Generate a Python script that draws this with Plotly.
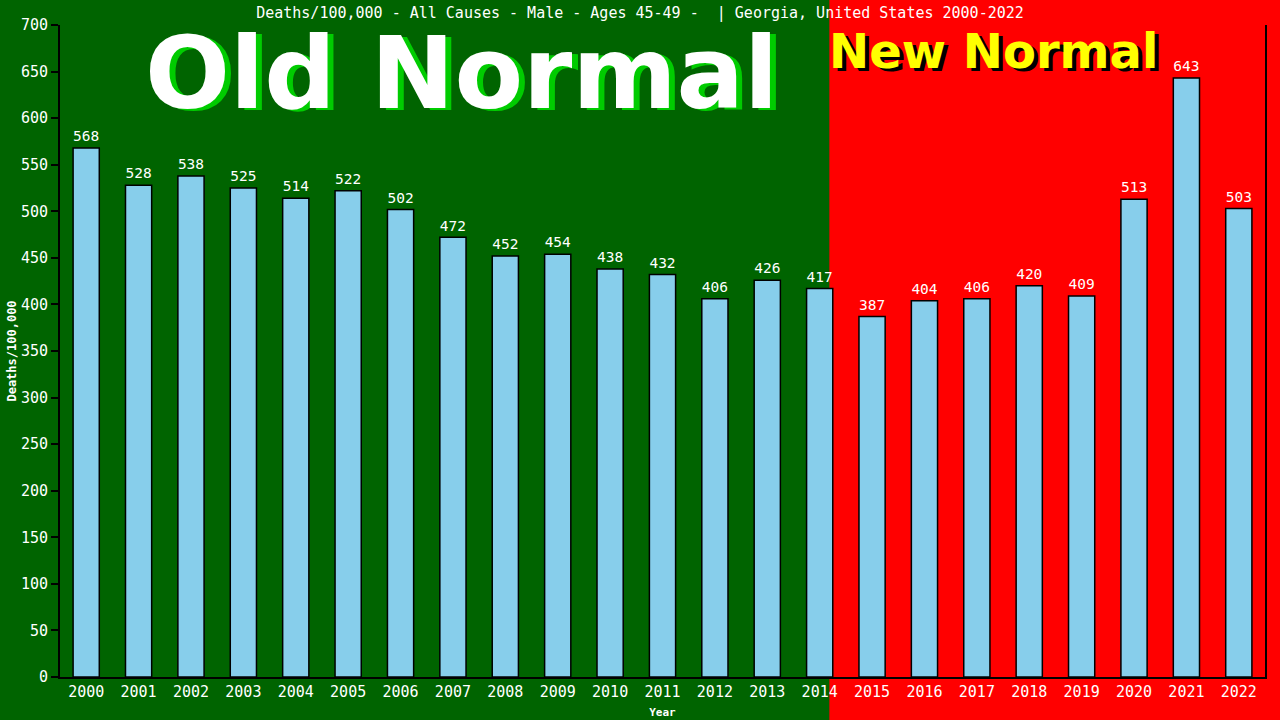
import plotly.graph_objects as go

years = [str(y) for y in range(2000, 2023)]
values = [568, 528, 538, 525, 514, 522, 502, 472, 452, 454, 438, 432, 406, 426, 417,
          387, 404, 406, 420, 409, 513, 643, 503]
title_text = "Deaths/100,000 - All Causes - Male - Ages 45-49 -  | Georgia, United States 2000-2022"

GREEN = "#006400"
RED = "#ff0000"
MONO = "DejaVu Sans Mono"

fig = go.Figure()
fig.add_trace(go.Bar(
    x=years, y=values, width=0.5,
    marker=dict(color="#87CEEB", line=dict(color="black", width=1.5)),
    text=[str(v) for v in values], textposition="outside",
    textfont=dict(color="white", size=15, family=MONO),
    cliponaxis=False,
))

split = (830 - 60) / 1206
fig.add_shape(type="rect", xref="paper", yref="paper", x0=split, x1=2, y0=-1, y1=2,
              fillcolor=RED, line=dict(width=0), layer="below")

fig.add_annotation(text="<b>Old Normal</b>", xref="paper", yref="paper", x=0.333, y=0.925,
                   xanchor="center", yanchor="middle",
                   showarrow=False, font=dict(family="DejaVu Sans", size=100, color="#00cc00"),
                   xshift=6, yshift=-2)
fig.add_annotation(text="<b>Old Normal</b>", xref="paper", yref="paper", x=0.333, y=0.925,
                   xanchor="center", yanchor="middle",
                   showarrow=False, font=dict(family="DejaVu Sans", size=100, color="white"))
fig.add_annotation(text="<b>New Normal</b>", xref="paper", yref="paper", x=0.775, y=0.96,
                   xanchor="center", yanchor="middle",
                   showarrow=False, font=dict(family="DejaVu Sans", size=48, color="black"),
                   xshift=4, yshift=-3)
fig.add_annotation(text="<b>New Normal</b>", xref="paper", yref="paper", x=0.775, y=0.96,
                   xanchor="center", yanchor="middle",
                   showarrow=False, font=dict(family="DejaVu Sans", size=48, color="yellow"))

fig.update_layout(
    width=1280, height=720,
    margin=dict(l=60, r=15, t=25, b=43, autoexpand=False),
    paper_bgcolor=GREEN, plot_bgcolor="rgba(0,0,0,0)",
    showlegend=False,
    title=dict(text=title_text, x=0.5, xanchor="center", y=0.982, yanchor="middle",
               font=dict(family=MONO, size=15, color="white")),
    font=dict(family=MONO, color="white"),
)
fig.update_xaxes(range=[-0.5, 22.5], showline=True, linecolor="black", linewidth=2,
                 showgrid=False, zeroline=False, ticks="", automargin=False,
                 tickfont=dict(family=MONO, size=15, color="white"),
                 title=dict(text="<b>Year</b>", font=dict(family=MONO, size=11, color="white"), standoff=8))
fig.update_yaxes(range=[0, 700], dtick=50, showline=True, linecolor="black", linewidth=2,
                 mirror=True, showgrid=False, zeroline=False, ticks="outside", ticklen=7,
                 tickcolor="black", tickwidth=2, automargin=False,
                 tickfont=dict(family=MONO, size=15, color="white"),
                 title=dict(text="<b>Deaths/100,000</b>", font=dict(family=MONO, size=12, color="white"), standoff=2))

fig.write_html("out.html", config={"displayModeBar": False},
               post_script="document.body.style.margin='0';document.body.style.overflow='hidden';")
